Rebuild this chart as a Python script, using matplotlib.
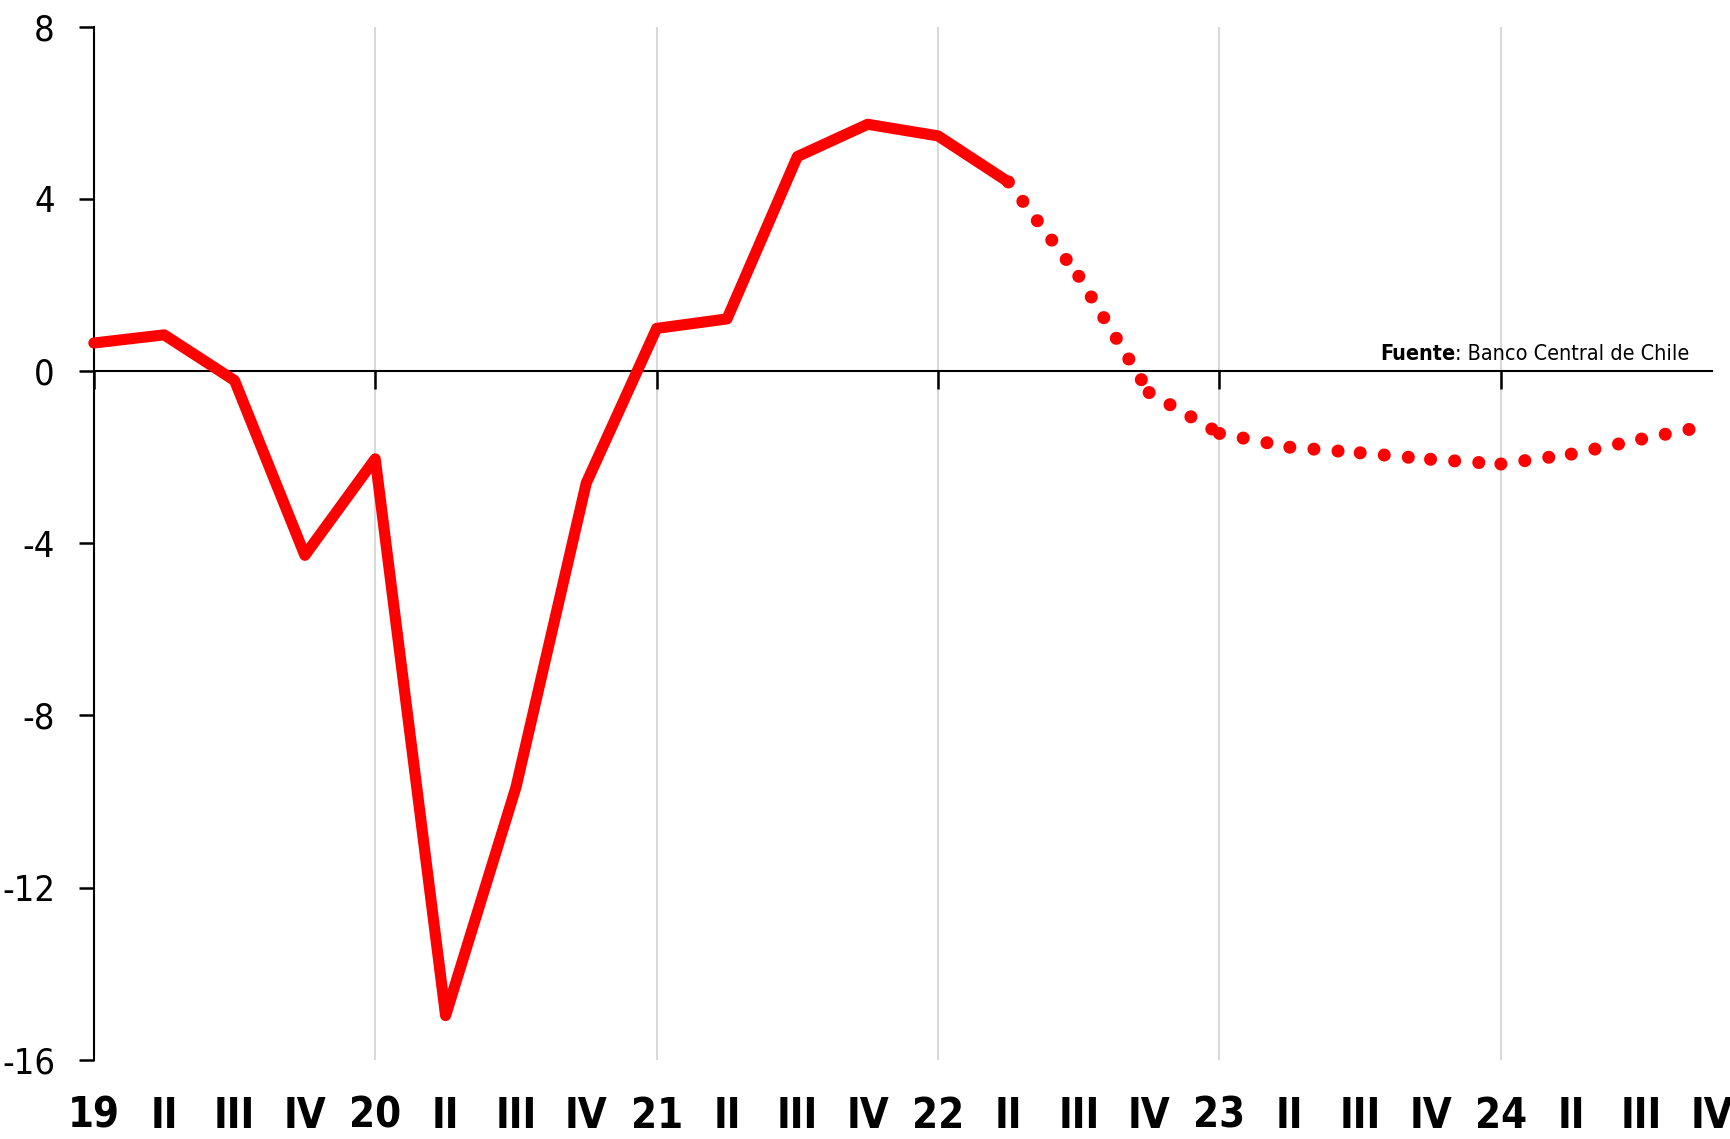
import matplotlib.pyplot as plt
import numpy as np

# quarters 2019 Q1 .. 2024 Q4
quarter_labels = ['19', 'II', 'III', 'IV', '20', 'II', 'III', 'IV',
                  '21', 'II', 'III', 'IV', '22', 'II', 'III', 'IV',
                  '23', 'II', 'III', 'IV', '24', 'II', 'III', 'IV']
year_starts = [0, 4, 8, 12, 16, 20]

# observed values (19 I .. 22 II)
actual = [0.65, 0.84, -0.22, -4.28, -2.04, -14.97, -9.67, -2.6,
          0.99, 1.21, 4.98, 5.73, 5.46, 4.39]
# projection (22 II .. 24 IV)
projection = [4.39, 2.2, -0.5, -1.45, -1.77, -1.9, -2.05, -2.16,
              -1.93, -1.58, -1.25]

yticks = [-16, -12, -8, -4, 0, 4, 8]

RED = '#ff0000'
plt.rcParams['font.family'] = ['DejaVu Sans']
plt.rcParams['font.stretch'] = 'condensed'

fig = plt.figure(figsize=(17.31, 11.39), dpi=100)
ax = fig.add_axes([0.0542, 0.0694, 0.9348, 0.9073])

x_act = np.arange(len(actual))
x_proj = np.arange(len(actual) - 1, len(actual) - 1 + len(projection))

ax.plot(x_act, actual, color=RED, lw=8, solid_joinstyle='round',
        solid_capstyle='round', zorder=4, clip_on=False)
# dotted projection, pattern restarts every quarter
for i in range(len(projection) - 1):
    ax.plot(x_proj[i:i + 2], projection[i:i + 2], color=RED, lw=9.4,
            linestyle=(0, (0.001, 1.85)), dash_capstyle='round',
            zorder=4, clip_on=False)

ax.set_xlim(0, len(quarter_labels) - 1)
ax.set_ylim(-16, 8)

for s in ['top', 'right', 'bottom']:
    ax.spines[s].set_visible(False)
ax.spines['left'].set_linewidth(1.5)

ax.set_yticks(yticks)
ax.set_yticklabels([str(v) for v in yticks])
ax.tick_params(axis='y', length=11, width=1.8, pad=17,
               labelsize=26)

ax.set_xticks(range(len(quarter_labels)))
ax.set_xticklabels(quarter_labels, fontweight='bold')
ax.tick_params(axis='x', length=0, pad=25, labelsize=30)

ax.xaxis.remove_overlapping_locs = False
ax.set_xticks(year_starts, minor=True)
ax.tick_params(axis='x', which='minor', length=0)
ax.grid(True, which='minor', axis='x', color='#d9d9d9', lw=1.5)
ax.set_axisbelow(True)

# zero line with year ticks
zero_pos = (0 - ax.get_ylim()[0]) / (ax.get_ylim()[1] - ax.get_ylim()[0])
sec = ax.secondary_xaxis(zero_pos)
sec.set_alignment('bottom')
sec.set_xticks(year_starts)
sec.set_xticklabels([''] * len(year_starts))
sec.tick_params(length=13, width=1.8, direction='out', color='black')
sec.spines['bottom'].set_linewidth(1.5)
sec.set_zorder(2)

src = ax.annotate(': Banco Central de Chile', xy=(0.986, 0),
                  xycoords=ax.get_yaxis_transform(),
                  xytext=(0, 5), textcoords='offset points',
                  ha='right', va='bottom', fontsize=15.5)
ax.annotate('Fuente', xy=(0, 0), xycoords=src, ha='right', va='bottom',
            fontsize=15.5, fontweight='bold')

fig.savefig('out.png', dpi=100)
